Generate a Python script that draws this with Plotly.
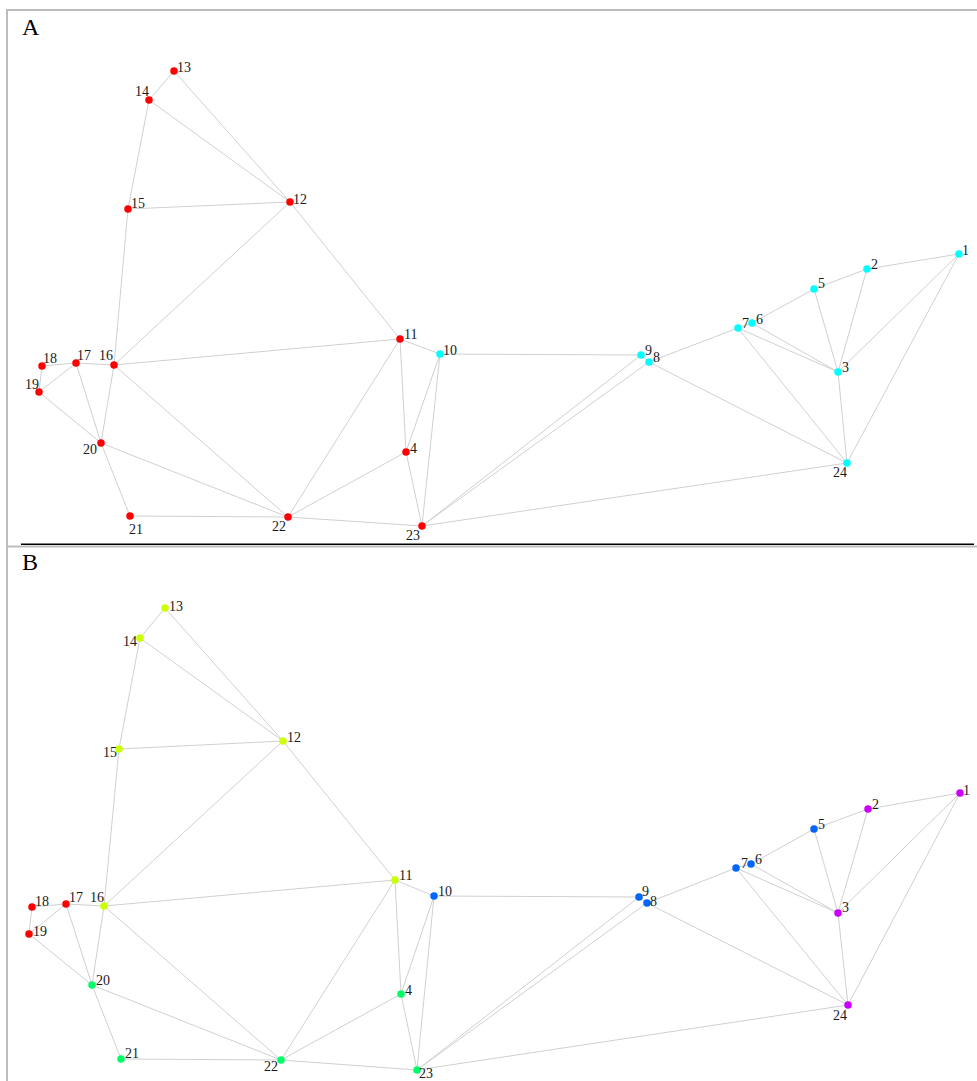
import plotly.graph_objects as go

# Node ids and graph layout coordinates (page pixel units) for the two panels
node_ids = list(range(1, 25))

posA_x = [959, 867, 838, 406, 814, 752, 738, 649, 641, 440, 400, 290,
          174, 149, 128, 114, 76, 42, 39, 101, 130, 288, 422, 847]
posA_y = [254, 269, 372, 452, 289, 323, 328, 362, 355, 354, 339, 202,
          71, 100, 209, 365, 363, 366, 392, 443, 516, 517, 526, 463]

posB_x = [960, 868, 838, 401, 814, 751, 736, 647, 639, 434, 395, 283,
          165, 140, 119, 104, 66, 32, 29, 92, 121, 281, 417, 848]
posB_y = [793, 809, 913, 994, 829, 864, 868, 903, 897, 896, 880, 741,
          608, 638, 749, 906, 904, 907, 934, 985, 1059, 1060, 1070, 1005]

# Community membership of each node (index into the palette)
groupsA = [1, 1, 1, 0, 1, 1, 1, 1, 1, 1, 0, 0,
           0, 0, 0, 0, 0, 0, 0, 0, 0, 0, 0, 1]
groupsB = [4, 4, 4, 2, 3, 3, 3, 3, 3, 3, 1, 1,
           1, 1, 1, 1, 0, 0, 0, 2, 2, 2, 2, 4]

paletteA = ["#FF0000", "#00FFFF"]
paletteB = ["#FF0000", "#CCFF00", "#00FF66", "#0066FF", "#CC00FF"]

edges = [(13, 14), (13, 12), (14, 12), (14, 15), (15, 12), (15, 16), (12, 16),
         (12, 11), (16, 17), (17, 18), (18, 19), (19, 17), (19, 20), (17, 20),
         (16, 20), (16, 11), (16, 22), (20, 22), (20, 21), (21, 22), (22, 11),
         (22, 4), (22, 23), (11, 10), (11, 4), (10, 4), (10, 23), (4, 23),
         (10, 9), (9, 23), (8, 23), (9, 8), (8, 7), (8, 24), (23, 24), (7, 6),
         (6, 5), (5, 2), (2, 1), (5, 3), (2, 3), (1, 3), (1, 24), (7, 3),
         (6, 3), (7, 24), (3, 24)]

# Label offsets (dx, dy) in pixels relative to each node, per panel
label_offsetA = {1: (6, -4), 2: (7, -5), 3: (7, -5), 4: (7, -4), 5: (7, -6),
                 6: (7, -4), 7: (7, -5), 8: (7, -5), 9: (7, -5), 10: (10, -4),
                 11: (10, -5), 12: (10, -3), 13: (10, -4), 14: (-7, -9),
                 15: (10, -6), 16: (-8, -10), 17: (8, -8), 18: (8, -8),
                 19: (-7, -8), 20: (-11, 6), 21: (6, 13), 22: (-9, 9),
                 23: (-9, 9), 24: (-7, 9)}
label_offsetB = {1: (6, -3), 2: (7, -5), 3: (7, -6), 4: (7, -4), 5: (7, -5),
                 6: (7, -5), 7: (8, -5), 8: (6, -2), 9: (6, -6), 10: (11, -5),
                 11: (10, -5), 12: (11, -4), 13: (11, -2), 14: (-10, 3),
                 15: (-9, 3), 16: (-7, -9), 17: (10, -7), 18: (10, -6),
                 19: (11, -3), 20: (11, -5), 21: (11, -6), 22: (-10, 6),
                 23: (9, 3), 24: (-8, 10)}

EDGE_COLOR = "#D0D0D0"
LABEL_FONT = dict(family="Liberation Serif, Times New Roman, serif", size=14, color="#1a1a1a")

fig = go.Figure()
annotations = []


def add_panel(xs, ys, groups, palette, offsets):
    idx = {n: i for i, n in enumerate(node_ids)}
    ex, ey = [], []
    for a, b in edges:
        ex += [xs[idx[a]], xs[idx[b]], None]
        ey += [ys[idx[a]], ys[idx[b]], None]
    fig.add_trace(go.Scatter(x=ex, y=ey, mode="lines",
                             line=dict(color=EDGE_COLOR, width=1),
                             hoverinfo="skip", showlegend=False))
    fig.add_trace(go.Scatter(x=xs, y=ys, mode="markers",
                             marker=dict(size=7.5, color=[palette[g] for g in groups],
                                         line=dict(width=0)),
                             text=[str(n) for n in node_ids],
                             hoverinfo="text", showlegend=False))
    for n, x, y in zip(node_ids, xs, ys):
        dx, dy = offsets[n]
        annotations.append(dict(x=x, y=y, text=str(n), showarrow=False,
                                xanchor="center", yanchor="middle",
                                xshift=dx, yshift=-dy, font=LABEL_FONT))


add_panel(posA_x, posA_y, groupsA, paletteA, label_offsetA)
add_panel(posB_x, posB_y, groupsB, paletteB, label_offsetB)

# Panel letters
for letter, (lx, ly) in {"A": (31, 27), "B": (30, 562)}.items():
    annotations.append(dict(x=lx, y=ly, text=letter, showarrow=False,
                            xanchor="center", yanchor="middle",
                            font=dict(family="Liberation Serif, Times New Roman, serif",
                                      size=24, color="#000000")))

# Frame lines around the panels
GRAY = "#BDBDBD"
shapes = [
    dict(type="line", x0=6, x1=977, y0=10, y1=10, line=dict(color=GRAY, width=2)),
    dict(type="line", x0=7, x1=7, y0=9, y1=1081, line=dict(color=GRAY, width=2)),
    dict(type="line", x0=6, x1=977, y0=546.5, y1=546.5, line=dict(color=GRAY, width=2)),
    dict(type="line", x0=21, x1=974, y0=544.3, y1=544.3, line=dict(color="#000000", width=1.5)),
]
for s in shapes:
    s.update(xref="x", yref="y", layer="below")

fig.update_layout(
    width=977, height=1081, autosize=False,
    margin=dict(l=0, r=0, t=0, b=0, pad=0),
    paper_bgcolor="white", plot_bgcolor="white",
    xaxis=dict(range=[0, 977], visible=False, fixedrange=True),
    yaxis=dict(range=[1081, 0], visible=False, fixedrange=True),
    annotations=annotations, shapes=shapes,
)

fig.write_html("out.html", config={"displayModeBar": False})
